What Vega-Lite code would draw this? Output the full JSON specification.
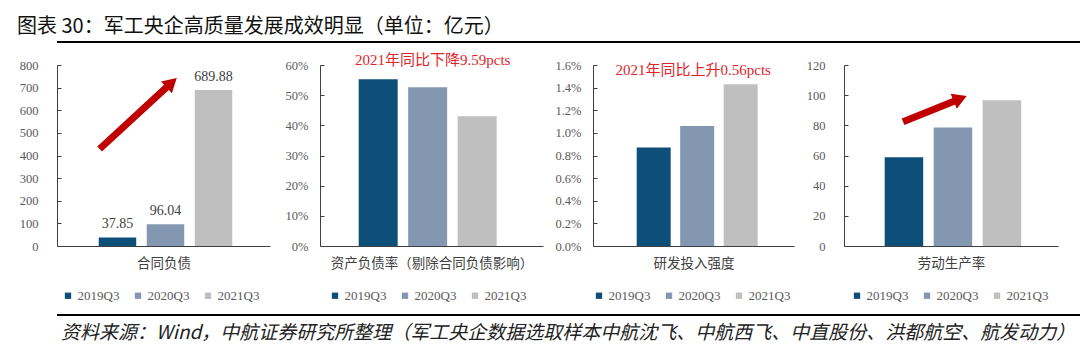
{
  "$schema": "https://vega.github.io/schema/vega-lite/v6.json",
  "background": "white",
  "padding": {"left": 2, "top": 16, "right": 0, "bottom": 0},
  "title": {"text": "图表 30：军工央企高质量发展成效明显（单位：亿元）", "anchor": "start", "fontSize": 20, "fontWeight": "normal", "font": "Noto Sans CJK SC", "color": "#111111", "dx": 15, "offset": 4},
  "config": {
    "view": {"stroke": null},
    "font": "Noto Sans CJK SC",
    "axis": {"grid": false, "domainColor": "#404040", "tickColor": "#404040", "labelFont": "Liberation Serif", "labelFontSize": 12.5, "labelColor": "#595959", "labelOverlap": false, "labelFlush": false, "titleFont": "Noto Sans CJK SC", "titleFontWeight": "normal", "titleFontSize": 13.5, "titleColor": "#404040"},
    "legend": {"symbolType": "square", "symbolSize": 40, "symbolStrokeWidth": 0, "labelFont": "Liberation Serif", "labelFontSize": 13, "labelColor": "#595959", "columnPadding": 12, "labelOffset": 3, "padding": 0}
  },
  "datasets": {
    "bars": [
      {"metric": "合同负债", "period": "2019Q3", "value": 37.85},
      {"metric": "合同负债", "period": "2020Q3", "value": 96.04},
      {"metric": "合同负债", "period": "2021Q3", "value": 689.88},
      {"metric": "资产负债率", "period": "2019Q3", "value": 0.553},
      {"metric": "资产负债率", "period": "2020Q3", "value": 0.526},
      {"metric": "资产负债率", "period": "2021Q3", "value": 0.430},
      {"metric": "研发投入强度", "period": "2019Q3", "value": 0.0087},
      {"metric": "研发投入强度", "period": "2020Q3", "value": 0.0106},
      {"metric": "研发投入强度", "period": "2021Q3", "value": 0.0143},
      {"metric": "劳动生产率", "period": "2019Q3", "value": 58.9},
      {"metric": "劳动生产率", "period": "2020Q3", "value": 78.5},
      {"metric": "劳动生产率", "period": "2021Q3", "value": 96.7}
    ],
    "arrows": [
      {"metric": "合同负债", "end": "tail", "pos": 0.2, "value": 428.7},
      {"metric": "合同负债", "end": "head", "pos": 0.538, "value": 721.8},
      {"metric": "劳动生产率", "end": "tail", "pos": 0.276, "value": 82.4},
      {"metric": "劳动生产率", "end": "head", "pos": 0.543, "value": 97.7}
    ]
  },
  "spacing": 8,
  "vconcat": [
    {
      "width": 1055, "height": 2,
      "data": {"values": [{}]},
      "mark": {"type": "rule", "color": "#000000", "strokeWidth": 2.2},
      "encoding": {"y": {"datum": 1, "type": "quantitative", "scale": {"domain": [0, 1]}, "axis": null}}
    },
    {
      "hconcat": [
        {
          "width": 213, "height": 181,
          "layer": [
            {
              "data": {"name": "bars"},
              "transform": [{"filter": "datum.metric === '合同负债'"}],
              "encoding": {
                "x": {"field": "period", "type": "nominal", "scale": {"type": "band", "domain": ["2019Q3", "2020Q3", "2021Q3"], "paddingInner": 0.219, "paddingOuter": 0.828, "align": 0.525}, "axis": {"labels": false, "ticks": false, "title": "合同负债", "titlePadding": 10}},
                "y": {"field": "value", "type": "quantitative", "title": null, "scale": {"domain": [0, 800], "nice": false}, "axis": {"values": [0, 100, 200, 300, 400, 500, 600, 700, 800], "format": "d", "tickSize": -4, "labelPadding": 23, "minExtent": 55, "labelOverlap": false}}
              },
              "layer": [
                {"mark": {"type": "bar"}, "encoding": {"color": {"field": "period", "type": "nominal", "scale": {"domain": ["2019Q3", "2020Q3", "2021Q3"], "range": ["#0E4F79", "#8497B0", "#BFBFBF"]}, "legend": {"orient": "none", "legendX": 4.5, "legendY": 224, "direction": "horizontal", "title": null}}}},
                {"mark": {"type": "text", "font": "Liberation Serif", "fontSize": 14, "color": "#404040", "baseline": "middle", "dy": -13}, "encoding": {"text": {"field": "value", "type": "quantitative", "format": ".2f"}}}
              ]
            },
            {
              "data": {"name": "arrows"},
              "transform": [{"filter": "datum.metric === '合同负债'"}],
              "encoding": {
                "x": {"field": "pos", "type": "quantitative", "scale": {"domain": [0, 1]}, "axis": null},
                "y": {"field": "value", "type": "quantitative", "title": null, "scale": {"domain": [0, 800], "nice": false}, "axis": {"values": [0, 100, 200, 300, 400, 500, 600, 700, 800], "format": "d", "tickSize": -4, "labelPadding": 23, "minExtent": 55, "labelOverlap": false}}
              },
              "layer": [
                {"mark": {"type": "line", "color": "#C00000", "strokeWidth": 7, "strokeCap": "butt"}},
                {"transform": [{"filter": "datum.end === 'head'"}], "mark": {"type": "point", "shape": "triangle-up", "filled": true, "color": "#C00000", "opacity": 1, "size": 260, "angle": 47.3}}
              ]
            }
          ],
          "resolve": {"scale": {"x": "independent"}}
        },
        {
          "width": 223, "height": 181,
          "data": {"name": "bars"},
          "transform": [{"filter": "datum.metric === '资产负债率'"}],
          "encoding": {
            "x": {"field": "period", "type": "nominal", "scale": {"type": "band", "domain": ["2019Q3", "2020Q3", "2021Q3"], "paddingInner": 0.212, "paddingOuter": 0.859, "align": 0.455}, "axis": {"labels": false, "ticks": false, "title": "资产负债率（剔除合同负债影响）", "titlePadding": 10}},
            "y": {"field": "value", "type": "quantitative", "title": null, "scale": {"domain": [0, 0.6], "nice": false}, "axis": {"values": [0, 0.1, 0.2, 0.3, 0.4, 0.5, 0.6], "format": ".0%", "tickSize": -4, "labelPadding": 16}}
          },
          "layer": [
            {"mark": {"type": "bar"}, "encoding": {"color": {"field": "period", "type": "nominal", "scale": {"domain": ["2019Q3", "2020Q3", "2021Q3"], "range": ["#0E4F79", "#8497B0", "#BFBFBF"]}, "legend": {"orient": "none", "legendX": 8.5, "legendY": 224, "direction": "horizontal", "title": null}}}},
            {"transform": [{"filter": "datum.period === '2020Q3'"}], "mark": {"type": "text", "text": "2021年同比下降9.59pcts", "font": "Liberation Serif, Noto Sans CJK SC", "fontSize": 15, "color": "#E0252A", "baseline": "middle", "dx": 5}, "encoding": {"y": {"datum": 0.6166, "type": "quantitative"}}}
          ]
        },
        {
          "width": 201, "height": 181,
          "data": {"name": "bars"},
          "transform": [{"filter": "datum.metric === '研发投入强度'"}],
          "encoding": {
            "x": {"field": "period", "type": "nominal", "scale": {"type": "band", "domain": ["2019Q3", "2020Q3", "2021Q3"], "paddingInner": 0.218, "paddingOuter": 0.92, "align": 0.546}, "axis": {"labels": false, "ticks": false, "title": "研发投入强度", "titlePadding": 10}},
            "y": {"field": "value", "type": "quantitative", "title": null, "scale": {"domain": [0, 0.016], "nice": false}, "axis": {"values": [0, 0.002, 0.004, 0.006, 0.008, 0.01, 0.012, 0.014, 0.016], "format": ".1%", "tickSize": -4, "labelPadding": 16}}
          },
          "layer": [
            {"mark": {"type": "bar"}, "encoding": {"color": {"field": "period", "type": "nominal", "scale": {"domain": ["2019Q3", "2020Q3", "2021Q3"], "range": ["#0E4F79", "#8497B0", "#BFBFBF"]}, "legend": {"orient": "none", "legendX": -0.5, "legendY": 224, "direction": "horizontal", "title": null}}}},
            {"transform": [{"filter": "datum.period === '2020Q3'"}], "mark": {"type": "text", "text": "2021年同比上升0.56pcts", "font": "Liberation Serif, Noto Sans CJK SC", "fontSize": 15, "color": "#E0252A", "baseline": "middle", "dx": -4}, "encoding": {"y": {"datum": 0.01556, "type": "quantitative"}}}
          ]
        },
        {
          "width": 214, "height": 181,
          "layer": [
            {
              "data": {"name": "bars"},
              "transform": [{"filter": "datum.metric === '劳动生产率'"}],
              "encoding": {
                "x": {"field": "period", "type": "nominal", "scale": {"type": "band", "domain": ["2019Q3", "2020Q3", "2021Q3"], "paddingInner": 0.214, "paddingOuter": 0.791, "align": 0.525}, "axis": {"labels": false, "ticks": false, "title": "劳动生产率", "titlePadding": 10}},
                "y": {"field": "value", "type": "quantitative", "title": null, "scale": {"domain": [0, 120], "nice": false}, "axis": {"values": [0, 20, 40, 60, 80, 100, 120], "format": "d", "tickSize": -4, "labelPadding": 23, "labelOverlap": false}}
              },
              "layer": [
                {"mark": {"type": "bar"}, "encoding": {"color": {"field": "period", "type": "nominal", "scale": {"domain": ["2019Q3", "2020Q3", "2021Q3"], "range": ["#0E4F79", "#8497B0", "#BFBFBF"]}, "legend": {"orient": "none", "legendX": 6.5, "legendY": 224, "direction": "horizontal", "title": null}}}}
              ]
            },
            {
              "data": {"name": "arrows"},
              "transform": [{"filter": "datum.metric === '劳动生产率'"}],
              "encoding": {
                "x": {"field": "pos", "type": "quantitative", "scale": {"domain": [0, 1]}, "axis": null},
                "y": {"field": "value", "type": "quantitative", "title": null, "scale": {"domain": [0, 120], "nice": false}, "axis": {"values": [0, 20, 40, 60, 80, 100, 120], "format": "d", "tickSize": -4, "labelPadding": 23, "labelOverlap": false}}
              },
              "layer": [
                {"mark": {"type": "line", "color": "#C00000", "strokeWidth": 7, "strokeCap": "butt"}},
                {"transform": [{"filter": "datum.end === 'head'"}], "mark": {"type": "point", "shape": "triangle-up", "filled": true, "color": "#C00000", "opacity": 1, "size": 260, "angle": 67.9}}
              ]
            }
          ],
          "resolve": {"scale": {"x": "independent"}}
        }
      ],
      "spacing": 50,
      "bounds": "flush",
      "resolve": {"legend": {"color": "independent"}}
    },
    {
      "width": 1055, "height": 4,
      "data": {"values": [{}]},
      "title": {"text": "资料来源：Wind，中航证券研究所整理（军工央企数据选取样本中航沈飞、中航西飞、中直股份、洪都航空、航发动力）", "orient": "bottom", "anchor": "start", "frame": "group", "fontSize": 19, "fontStyle": "italic", "fontWeight": "normal", "font": "Noto Sans CJK SC", "color": "#222222", "offset": 8, "dx": 4},
      "mark": {"type": "rule", "color": "#000000", "strokeWidth": 2.2},
      "encoding": {"y": {"datum": 0, "type": "quantitative", "scale": {"domain": [0, 1]}, "axis": null}}
    }
  ]
}
